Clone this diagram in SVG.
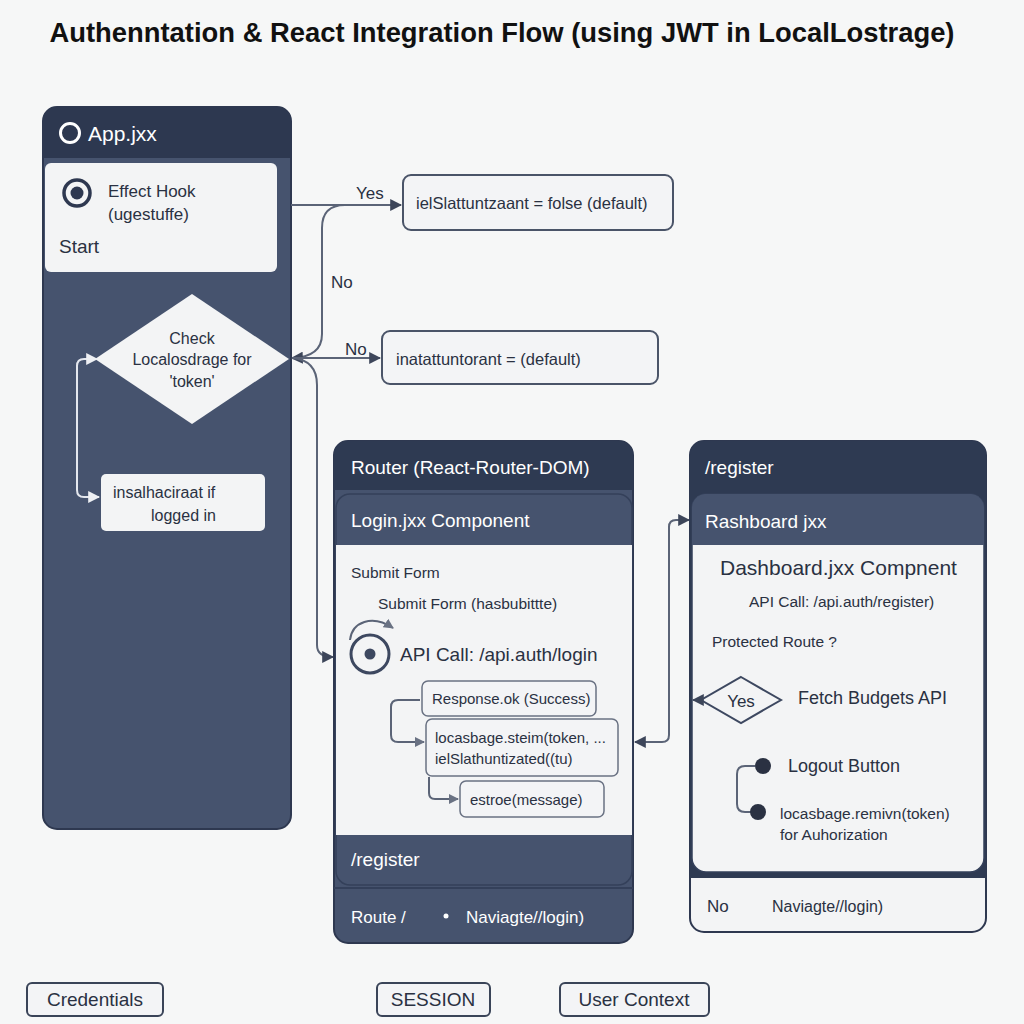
<svg xmlns="http://www.w3.org/2000/svg" width="1024" height="1024" viewBox="0 0 1024 1024">
<defs>
<style>
text{font-family:"Liberation Sans",Arial,sans-serif;}
.title{font-size:27px;font-weight:bold;fill:#111;}
.w{fill:#ffffff;}
.d{fill:#2a3142;}
.box{fill:#f3f4f6;stroke:#4a5468;stroke-width:2;}
.sbox{fill:#f3f4f6;stroke:#6a7283;stroke-width:1.5;}
.con{fill:none;stroke:#5b6477;stroke-width:2;}
.conw{fill:none;stroke:#e4e7ee;stroke-width:2;}
.leg{fill:#f3f4f6;stroke:#3a4458;stroke-width:2;}
</style>
<marker id="ah" viewBox="0 0 10 10" refX="9" refY="5" markerWidth="6" markerHeight="6" orient="auto-start-reverse"><path d="M0,0 L10,5 L0,10 z" fill="#3d465a"/></marker>
<marker id="ahw" viewBox="0 0 10 10" refX="9" refY="5" markerWidth="6" markerHeight="6" orient="auto-start-reverse"><path d="M0,0 L10,5 L0,10 z" fill="#eef0f4"/></marker>
<marker id="ahg" viewBox="0 0 10 10" refX="9" refY="5" markerWidth="5" markerHeight="5" orient="auto-start-reverse"><path d="M0,0 L10,5 L0,10 z" fill="#6a7283"/></marker>
</defs>
<rect width="1024" height="1024" fill="#f6f7f7"/>
<text class="title" x="502" y="42" text-anchor="middle" textLength="905" lengthAdjust="spacingAndGlyphs">Authenntation &amp; React Integration Flow (using JWT in LocalLostrage)</text>

<g id="app-panel">
<rect x="43" y="107" width="248" height="722" rx="14" fill="#46536e" stroke="#2e3850" stroke-width="2"/>
<path d="M43,158 V121 A14,14 0 0 1 57,107 H277 A14,14 0 0 1 291,121 V158 Z" fill="#2d3850"/>
<circle cx="70" cy="133" r="9.5" fill="none" stroke="#fff" stroke-width="3"/>
<text class="w" x="88" y="141" font-size="21">App.jxx</text>
</g>

<g id="effect-hook">
<rect x="45" y="163" width="232" height="109" rx="6" fill="#f3f4f5"/>
<circle cx="77" cy="193" r="13" fill="none" stroke="#2e3850" stroke-width="3.5"/>
<circle cx="77" cy="193" r="6.5" fill="#2e3850"/>
<text class="d" x="108" y="197" font-size="17">Effect Hook</text>
<text class="d" x="108" y="220" font-size="17">(ugestuffe)</text>
<text class="d" x="59" y="253" font-size="19">Start</text>
</g>

<g id="check-token">
<polygon points="192,294 289,359 192,424 95,359" fill="#f3f4f5"/>
<text class="d" x="192" y="344" font-size="16" text-anchor="middle">Check</text>
<text class="d" x="192" y="365" font-size="16" text-anchor="middle">Localosdrage for</text>
<text class="d" x="192" y="387" font-size="16" text-anchor="middle">'token'</text>
</g>

<g id="insal">
<rect x="101" y="474" width="164" height="57" rx="5" fill="#f3f4f5"/>
<text class="d" x="113" y="498" font-size="16">insalhaciraat if</text>
<text class="d" x="151" y="521" font-size="16">logged in</text>
</g>

<g id="box-false">
<rect class="box" x="403" y="175" width="270" height="55" rx="8"/>
<text class="d" x="416" y="209" font-size="16.5">ielSlattuntzaant = folse (default)</text>
</g>

<g id="box-default">
<rect class="box" x="382" y="331" width="276" height="53" rx="8"/>
<text class="d" x="396" y="365" font-size="16.5">inatattuntorant = (default)</text>
</g>

<g id="router-panel">
<rect x="334" y="441" width="299" height="502" rx="14" fill="#46536e" stroke="#2e3850" stroke-width="2"/>
<path d="M334,490 V455 A14,14 0 0 1 348,441 H619 A14,14 0 0 1 633,455 V490 Z" fill="#2e3a52"/>
<text class="w" x="351" y="474" font-size="19">Router (React-Router-DOM)</text>
<rect x="336" y="494" width="296" height="391" rx="14" fill="#46536e" stroke="#34405a" stroke-width="1.5"/>
<rect x="336" y="545" width="296" height="290" fill="#f3f4f5"/>
<text class="w" x="351" y="527" font-size="19">Login.jxx Component</text>
<text class="d" x="351" y="578" font-size="15.5">Submit Form</text>
<text class="d" x="378" y="609" font-size="15.5">Submit Form (hasbubittte)</text>
<path d="M350,640 C352,622 372,614 393,628" class="con" stroke="#6a7283" marker-end="url(#ahg)"/>
<circle cx="370" cy="654" r="19" fill="none" stroke="#3d4860" stroke-width="3"/>
<circle cx="370" cy="654" r="5.5" fill="#3d4860"/>
<text class="d" x="400" y="661" font-size="19">API Call: /api.auth/login</text>
<text class="w" x="351" y="866" font-size="19">/register</text>
<line x1="334" y1="888" x2="633" y2="888" stroke="#34405a" stroke-width="2"/>
<text class="w" x="351" y="923" font-size="17">Route /</text>
<circle cx="446" cy="916" r="2.5" fill="#fff"/>
<text class="w" x="466" y="923" font-size="17">Naviagte//login)</text>
</g>

<g id="response-ok">
<rect class="sbox" x="422" y="681" width="174" height="35" rx="6"/>
<text class="d" x="432" y="704" font-size="15">Response.ok (Success)</text>
</g>
<g id="locasbage-set">
<rect class="sbox" x="426" y="719" width="192" height="57" rx="6"/>
<text class="d" x="435" y="743" font-size="15">locasbage.steim(token, ...</text>
<text class="d" x="435" y="764" font-size="15">ielSlathuntizated((tu)</text>
</g>
<g id="estroe">
<rect class="sbox" x="460" y="781" width="144" height="36" rx="6"/>
<text class="d" x="470" y="805" font-size="15">estroe(message)</text>
</g>

<g id="dashboard-panel">
<rect x="690" y="441" width="296" height="491" rx="14" fill="#f3f4f5" stroke="#2e3850" stroke-width="2"/>
<path d="M690,490 V455 A14,14 0 0 1 704,441 H972 A14,14 0 0 1 986,455 V490 Z" fill="#2e3a52"/>
<rect x="690" y="490" width="296" height="388" fill="#2e3a52"/>
<text class="w" x="705" y="474" font-size="19">/register</text>
<rect x="692" y="494" width="292" height="378" rx="14" fill="#f3f4f5" stroke="#34405a" stroke-width="1.5"/>
<path d="M692,545 V508 A14,14 0 0 1 706,494 H970 A14,14 0 0 1 984,508 V545 Z" fill="#46536e"/>
<text class="w" x="705" y="528" font-size="19">Rashboard jxx</text>
<text class="d" x="720" y="575" font-size="21">Dashboard.jxx Compnent</text>
<text class="d" x="749" y="607" font-size="15.5">API Call: /api.auth/register)</text>
<text class="d" x="712" y="647" font-size="15.5">Protected Route ?</text>
<polygon points="741,677 781,700 741,723 701,700" fill="#f3f4f5" stroke="#3d4860" stroke-width="2"/>
<text class="d" x="741" y="707" font-size="17" text-anchor="middle">Yes</text>
<text class="d" x="798" y="704" font-size="18">Fetch Budgets API</text>
<path d="M755,766 H745 Q737,766 737,774 V804 Q737,812 745,812 H752" class="con" stroke="#4a5468"/>
<circle cx="763" cy="766" r="8" fill="#2a3142"/>
<circle cx="758" cy="812" r="8" fill="#2a3142"/>
<text class="d" x="788" y="772" font-size="18">Logout Button</text>
<text class="d" x="780" y="819" font-size="15.5">locasbage.remivn(token)</text>
<text class="d" x="780" y="840" font-size="15.5">for Auhorization</text>
<text class="d" x="707" y="912" font-size="17">No</text>
<text class="d" x="772" y="912" font-size="16">Naviagte//login)</text>
</g>

<g id="connectors">
<line x1="291" y1="205" x2="401" y2="205" class="con" marker-end="url(#ah)"/>
<text class="d" x="356" y="199" font-size="17">Yes</text>
<path d="M345,205 Q322,205 322,228 V334 Q322,357 292,358" class="con" marker-end="url(#ah)"/>
<text class="d" x="331" y="288" font-size="17">No</text>
<line x1="292" y1="358" x2="380" y2="358" class="con" marker-end="url(#ah)"/>
<text class="d" x="345" y="355" font-size="17">No</text>
<path d="M292,358 Q317,360 317,385 V645 Q317,657 333,657" class="con" marker-end="url(#ah)"/>
<path d="M97,359 H84 Q77,359 77,366 V490 Q77,497 84,497 H99" class="conw" marker-start="url(#ahw)" marker-end="url(#ahw)"/>
<path d="M420,700 H398 Q391,700 391,707 V735 Q391,742 398,742 H424" class="con" stroke="#6a7283" stroke-width="1.5" marker-end="url(#ahg)"/>
<line x1="398" y1="742" x2="398" y2="742" class="con"/>
<path d="M429,777 V793 Q429,799 435,799 H458" class="con" stroke="#6a7283" stroke-width="1.5" marker-end="url(#ahg)"/>
<path d="M635,742 H662 Q669,742 669,735 V527 Q669,520 676,520 H689" class="con" marker-start="url(#ah)" marker-end="url(#ah)"/>
<line x1="700" y1="700" x2="693" y2="700" class="con" marker-end="url(#ah)"/>
</g>

<g id="legend-credentials">
<rect class="leg" x="27" y="983" width="136" height="33" rx="5"/>
<text class="d" x="95" y="1006" font-size="19" text-anchor="middle">Credentials</text>
</g>
<g id="legend-session">
<rect class="leg" x="377" y="983" width="113" height="33" rx="5"/>
<text class="d" x="433" y="1006" font-size="19" text-anchor="middle">SESSION</text>
</g>
<g id="legend-user">
<rect class="leg" x="560" y="983" width="149" height="33" rx="5"/>
<text class="d" x="634" y="1006" font-size="19" text-anchor="middle">User Context</text>
</g>
</svg>
